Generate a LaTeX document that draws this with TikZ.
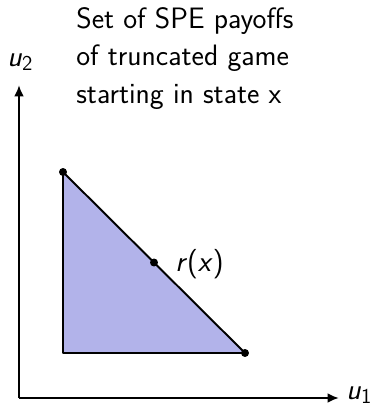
\documentclass[tikz,border=0pt]{standalone}
\usepackage{tikz}
\usetikzlibrary{arrows.meta,calc}
\definecolor{setfill}{HTML}{B2B3EA}
\tikzset{fig/.style={line join=round,>={Latex[length=6.5pt,width=5.5pt]}},
  dot/.style={circle,fill=black,inner sep=0pt,minimum size=0.16cm}}

\begin{document}
\begin{tikzpicture}[fig,x=0.02cm,y=0.02cm,font=\sffamily\fontsize{16.8}{21.3}\selectfont]
  \useasboundingbox(0,0)rectangle(373,407);
  % axes
  \coordinate(o)at(19,9);\coordinate(xend)at(339,9);\coordinate(yend)at(19,322);
  \draw[line width=1.1pt,->](o)--(xend);\draw[line width=1.1pt,->](o)--(yend);
  \node[anchor=west,inner sep=0pt](u1)at(346,12){\textit{u}$_\mathsf{1}$};
  \node[anchor=west,inner sep=0pt](u2)at(7,345){\textit{u}$_\mathsf{2}$};
  % payoff set
  \coordinate(tl)at(63,235);\coordinate(bl)at(63,54);\coordinate(br)at(245,54);
  \draw[line width=1.1pt,fill=setfill](tl)--(bl)--(br)--cycle;
  \node[dot](a)at(tl){};\node[dot](b)at(br){};
  \node[dot](r)at($(tl)!0.5!(br)$){};
  \node[anchor=west,inner sep=0pt](rlab)at(175,143){\textit{r}(\textit{x})};
  \node[anchor=north west,inner sep=0pt,align=left](title)at(76,400){Set of SPE payoffs\\of truncated game\\starting in state x};
\end{tikzpicture}
\end{document}
